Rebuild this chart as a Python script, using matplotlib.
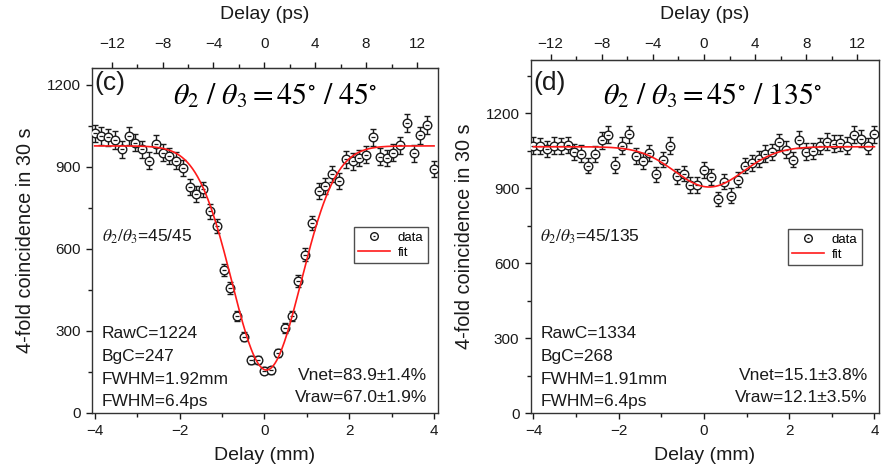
import numpy as np
import matplotlib
matplotlib.use("Agg")
import matplotlib.pyplot as plt
from matplotlib.ticker import MultipleLocator, FixedLocator
from matplotlib.lines import Line2D

plt.rcParams["font.family"] = ["Liberation Sans", "DejaVu Sans"]
plt.rcParams["mathtext.fontset"] = "stix"

# Delay positions (mm)
delay_mm = [-4.00, -3.84, -3.68, -3.52, -3.36, -3.20, -3.04, -2.88, -2.72, -2.56,
            -2.40, -2.24, -2.08, -1.92, -1.76, -1.60, -1.44, -1.28, -1.12, -0.96,
            -0.80, -0.64, -0.48, -0.32, -0.16, 0.00, 0.16, 0.32, 0.48, 0.64,
            0.80, 0.96, 1.12, 1.28, 1.44, 1.60, 1.76, 1.92, 2.08, 2.24,
            2.40, 2.56, 2.72, 2.88, 3.04, 3.20, 3.36, 3.52, 3.68, 3.84, 4.00]

# Four-fold coincidences in 30 s, theta2/theta3 = 45/45
counts_c = [1023, 1013, 1008, 999, 965, 1013, 989, 965, 923, 984,
            952, 940, 923, 896, 828, 801, 818, 738, 684, 523,
            457, 355, 279, 193, 193, 155, 157, 221, 311, 355,
            484, 579, 694, 813, 830, 874, 850, 928, 921, 933,
            945, 1008, 938, 933, 952, 979, 1062, 950, 1016, 1053, 892]

# Four-fold coincidences in 30 s, theta2/theta3 = 45/135
counts_d = [1071, 1068, 1058, 1071, 1068, 1074, 1044, 1039, 991, 1036,
            1092, 1114, 994, 1071, 1116, 1028, 1010, 1042, 956, 1015,
            1071, 948, 959, 913, 913, 972, 945, 857, 927, 870,
            935, 991, 1002, 1018, 1039, 1044, 1084, 1055, 1015, 1095,
            1047, 1050, 1068, 1087, 1079, 1082, 1071, 1114, 1098, 1068, 1116]

# Top-axis tick values (ps)
ps_major = [-12, -8, -4, 0, 4, 8, 12]
ps_minor = [-14, -10, -6, -2, 2, 6, 10, 14]

# Fit parameters: raw counts, background, FWHM (mm), net visibility, dip centre (mm)
fit_c = dict(raw=1224, bg=247, fwhm=1.92, vnet=0.839, x0=0.05)
fit_d = dict(raw=1334, bg=268, fwhm=1.91, vnet=0.151, x0=0.12)

panels = [
    dict(label="(c)", counts=counts_c, fit=fit_c, ang="45",
         texts=["RawC=1224", "BgC=247", "FWHM=1.92mm", "FWHM=6.4ps"],
         vis=["Vnet=83.9\u00b11.4%", "Vraw=67.0\u00b11.9%"],
         box=(91.7, 68, 438.3, 413), ylim=(0, 1262), toppad=8.0, toplabelpad=12.5),
    dict(label="(d)", counts=counts_d, fit=fit_d, ang="135",
         texts=["RawC=1334", "BgC=268", "FWHM=1.91mm", "FWHM=6.4ps"],
         vis=["Vnet=15.1\u00b13.8%", "Vraw=12.1\u00b13.5%"],
         box=(530.5, 60, 878.7, 413.3), ylim=(0, 1413), toppad=2.2, toplabelpad=13),
]

W, H = 887, 470
fig = plt.figure(figsize=(W / 100, H / 100), dpi=100)

C_MM_PER_PS = 0.299792458
ink = "#1a1a1a"
red = "#ff1a1a"

for i, p in enumerate(panels):
    x0p, y0p, x1p, y1p = p["box"]
    ax = fig.add_axes([x0p / W, 1 - y1p / H, (x1p - x0p) / W, (y1p - y0p) / H])
    w_px, h_px = x1p - x0p, y1p - y0p

    def ax_xy(px, py):
        return (px - x0p) / w_px, (y1p - py) / h_px

    x = np.array(delay_mm)
    y = np.array(p["counts"], dtype=float)
    ax.errorbar(x, y, yerr=np.sqrt(y), fmt="none", ecolor=ink, elinewidth=1.0,
                capsize=2.3, capthick=1.0, zorder=2)
    ax.plot(x, y, "o", ms=6.2, mfc="white", mec=ink, mew=1.0, zorder=3)
    ax.plot(x, y, "_", ms=2.2, mec=ink, mew=0.9, zorder=4)

    f = p["fit"]
    xf = np.linspace(-4, 4, 400)
    base = f["raw"] - f["bg"]
    yf = base * (1 - f["vnet"] * np.exp(-4 * np.log(2) * (xf - f["x0"]) ** 2 / f["fwhm"] ** 2))
    ax.plot(xf, yf, color=red, lw=1.2, zorder=5)

    ax.set_xlim(-4.07, 4.1)
    ax.set_ylim(*p["ylim"])
    ax.xaxis.set_major_locator(MultipleLocator(2))
    ax.xaxis.set_minor_locator(MultipleLocator(1))
    ax.yaxis.set_major_locator(MultipleLocator(300))
    ax.yaxis.set_minor_locator(MultipleLocator(150))
    ax.tick_params(which="both", direction="out", labelsize=11, colors=ink, width=1)
    ax.tick_params(which="major", length=4.5)
    ax.tick_params(which="minor", length=3)
    for s in ax.spines.values():
        s.set_color("#333333")
        s.set_linewidth(1.0)
    ax.set_xlabel("Delay (mm)", fontsize=14, color=ink, labelpad=6.5)
    ax.set_ylabel("4-fold coincidence in 30 s", fontsize=14.3, color=ink, labelpad=8)

    top = ax.secondary_xaxis("top", functions=(lambda v: v / C_MM_PER_PS,
                                               lambda v: v * C_MM_PER_PS))
    top.xaxis.set_major_locator(FixedLocator(ps_major))
    top.xaxis.set_minor_locator(FixedLocator(ps_minor))
    top.tick_params(which="both", direction="out", labelsize=11, colors=ink, width=1)
    top.tick_params(which="major", length=4.5, pad=p["toppad"])
    top.tick_params(which="minor", length=3)
    top.spines["top"].set_color("#333333")
    top.set_xlabel("Delay (ps)", fontsize=14, color=ink, labelpad=p["toplabelpad"])

    ax.text(*ax_xy(x0p + 3, 83), p["label"], transform=ax.transAxes,
            fontsize=19, color=ink, ha="left", va="center")
    cx = 275 if i == 0 else 713
    ax.text(*ax_xy(cx, 96), r"$\theta_2\ /\ \theta_3 = 45^{\circ}\ /\ %s^{\circ}$" % p["ang"],
            transform=ax.transAxes, fontsize=21.5, color="black", ha="center", va="center")
    ax.text(*ax_xy(x0p + 10, 237), r"$\theta_2/\theta_3$=45/%s" % p["ang"],
            transform=ax.transAxes, fontsize=12.5, color=ink, ha="left", va="center")

    for k, t in enumerate(p["texts"]):
        ax.text(*ax_xy(x0p + 10, 334 + 22.5 * k), t, transform=ax.transAxes,
                fontsize=12.5, color=ink, ha="left", va="center")
    for k, t in enumerate(p["vis"]):
        ax.text(*ax_xy(x1p - 11, 376 + 22 * k), t, transform=ax.transAxes,
                fontsize=12.5, color=ink, ha="right", va="center")

    handles = [(Line2D([], [], ls="none", marker="o", ms=5.5, mfc="white", mec=ink, mew=1.0),
                Line2D([], [], ls="none", marker="_", ms=2, mec=ink, mew=0.9)),
               Line2D([], [], color=red, lw=1.2)]
    lx, ly = (ax_xy(428, 227) if i == 0 else ax_xy(862, 229))
    leg = ax.legend(handles, ["data", "fit"], loc="upper right", bbox_to_anchor=(lx, ly),
                    fontsize=9.5, frameon=True, fancybox=False, handlelength=2.4,
                    handletextpad=0.6, borderpad=0.35, labelspacing=0.2, borderaxespad=0)
    leg.get_frame().set_edgecolor("#222222")
    leg.get_frame().set_linewidth(1.0)

fig.savefig("out.png", dpi=100)
